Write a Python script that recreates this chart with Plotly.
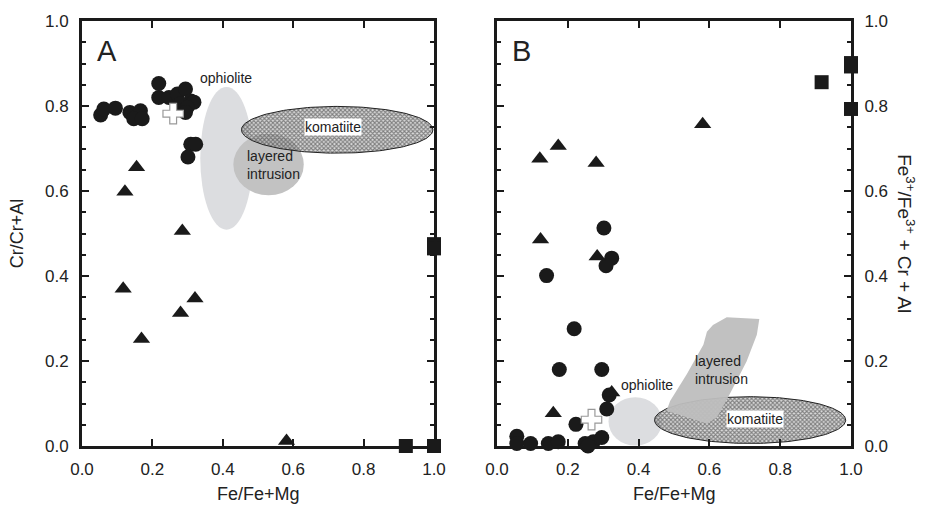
import numpy as np
import plotly.graph_objects as go

# ---------------- data ----------------
# Panel A: Cr/(Cr+Al) vs Fe/(Fe+Mg)
a_circle_x = [0.053, 0.062, 0.095, 0.136, 0.166, 0.147, 0.171, 0.218, 0.218, 0.247,
              0.271, 0.294, 0.309, 0.318, 0.280, 0.299, 0.294, 0.309, 0.323, 0.301]
a_circle_y = [0.779, 0.793, 0.795, 0.785, 0.789, 0.770, 0.770, 0.853, 0.820, 0.820,
              0.828, 0.840, 0.812, 0.809, 0.805, 0.797, 0.785, 0.710, 0.710, 0.680]
a_tri_x = [0.155, 0.122, 0.285, 0.117, 0.321, 0.280, 0.169, 0.581]
a_tri_y = [0.656, 0.598, 0.506, 0.370, 0.347, 0.313, 0.252, 0.012]
a_sq_x = [1.0, 1.0, 0.92, 1.0]
a_sq_y = [0.475, 0.465, 0.0, 0.0]
a_cross_x = [0.259]
a_cross_y = [0.782]

# Panel B: Fe3+/(Fe3+ + Cr + Al) vs Fe/(Fe+Mg)
b_circle_x = [0.302, 0.324, 0.308, 0.140, 0.218, 0.176, 0.296, 0.317, 0.310, 0.223,
              0.056, 0.056, 0.095, 0.145, 0.173, 0.249, 0.272, 0.296, 0.257]
b_circle_y = [0.513, 0.442, 0.424, 0.401, 0.276, 0.180, 0.180, 0.120, 0.087, 0.051,
              0.023, 0.006, 0.006, 0.006, 0.010, 0.006, 0.010, 0.020, 0.000]
b_tri_x = [0.121, 0.173, 0.280, 0.581, 0.123, 0.283, 0.324, 0.159]
b_tri_y = [0.676, 0.706, 0.666, 0.757, 0.486, 0.446, 0.126, 0.077]
b_sq_x = [1.0, 1.0, 0.917, 1.0]
b_sq_y = [0.901, 0.893, 0.856, 0.793]
b_cross_x = [0.267]
b_cross_y = [0.062]

# Field outlines
a_ophiolite = dict(x0=0.336, x1=0.485, y0=0.509, y1=0.845)
a_layered = dict(x0=0.43, x1=0.63, y0=0.59, y1=0.735)
a_komatiite = dict(cx=0.725, cy=0.744, rx=0.272, ry=0.055)
b_ophiolite = dict(x0=0.315, x1=0.466, y0=0.001, y1=0.115)
b_komatiite = dict(cx=0.715, cy=0.061, rx=0.27, ry=0.055)
b_layered_x = [0.649, 0.741, 0.734, 0.705, 0.658, 0.621, 0.592, 0.479, 0.489, 0.536, 0.583, 0.593, 0.610]
b_layered_y = [0.303, 0.299, 0.262, 0.199, 0.123, 0.067, 0.053, 0.083, 0.106, 0.169, 0.238, 0.269, 0.285]

tick_vals = [0.0, 0.2, 0.4, 0.6, 0.8, 1.0]
tick_text = ["0.0", "0.2", "0.4", "0.6", "0.8", "1.0"]

FONT = "Liberation Sans, Arial, sans-serif"

fig = go.Figure()


def ellipse(p):
    t = np.linspace(0, 2 * np.pi, 181)
    return p["cx"] + p["rx"] * np.cos(t), p["cy"] + p["ry"] * np.sin(t)


def add_komatiite(p, xa, ya):
    ex, ey = ellipse(p)
    fig.add_trace(go.Scatter(
        x=ex, y=ey, mode="lines", fill="toself", xaxis=xa, yaxis=ya,
        line=dict(color="#222", width=1),
        fillcolor="rgba(110,110,110,0.65)",
        fillpattern=dict(shape="x", size=3, solidity=0.6, fgcolor="#262626",
                         bgcolor="rgba(190,190,190,0.55)", fillmode="overlay"),
        hoverinfo="skip", showlegend=False))


def add_markers(cx, cy, tx, ty, sx, sy, rx, ry, xa, ya):
    fig.add_trace(go.Scatter(x=cx, y=cy, mode="markers", xaxis=xa, yaxis=ya,
                             marker=dict(symbol="circle", size=15, color="#1a1a1a"),
                             cliponaxis=False, showlegend=False))
    fig.add_trace(go.Scatter(x=tx, y=ty, mode="markers", xaxis=xa, yaxis=ya,
                             marker=dict(symbol="triangle-up", size=15, color="#1a1a1a"),
                             cliponaxis=False, showlegend=False))
    fig.add_trace(go.Scatter(x=sx, y=sy, mode="markers", xaxis=xa, yaxis=ya,
                             marker=dict(symbol="square", size=14, color="#1a1a1a"),
                             cliponaxis=False, showlegend=False))
    fig.add_trace(go.Scatter(x=rx, y=ry, mode="markers", xaxis=xa, yaxis=ya,
                             marker=dict(symbol="cross", size=17, color="white",
                                         line=dict(color="#999", width=1.2)),
                             cliponaxis=False, showlegend=False))


# Panel A fields
fig.add_shape(type="circle", xref="x", yref="y", layer="below", fillcolor="#dcdde0",
              line=dict(width=0), **a_ophiolite)
fig.add_shape(type="circle", xref="x", yref="y", layer="below", fillcolor="#c2c2c2",
              line=dict(width=0), **a_layered)
add_komatiite(a_komatiite, "x", "y")
add_markers(a_circle_x, a_circle_y, a_tri_x, a_tri_y, a_sq_x, a_sq_y, a_cross_x, a_cross_y, "x", "y")

# Panel B fields
fig.add_shape(type="circle", xref="x2", yref="y2", layer="below", fillcolor="#dcdde0",
              line=dict(width=0), **b_ophiolite)
add_komatiite(b_komatiite, "x2", "y2")
fig.add_trace(go.Scatter(x=b_layered_x + b_layered_x[:1], y=b_layered_y + b_layered_y[:1],
                         mode="lines", fill="toself", fillcolor="rgba(190,190,190,0.95)",
                         line=dict(width=0, color="rgba(0,0,0,0)"), xaxis="x2", yaxis="y2",
                         hoverinfo="skip", showlegend=False))
add_markers(b_circle_x, b_circle_y, b_tri_x, b_tri_y, b_sq_x, b_sq_y, b_cross_x, b_cross_y, "x2", "y2")

axis_common = dict(range=[0, 1], showgrid=False, zeroline=False, showline=True,
                   linecolor="#1a1a1a", linewidth=3, mirror="ticks",
                   ticks="inside", ticklen=7, tickwidth=2, tickcolor="#1a1a1a",
                   tickvals=tick_vals, ticktext=tick_text,
                   tickfont=dict(family=FONT, size=17, color="#222"))
y_minor = dict(ticks="inside", ticklen=4, tickwidth=2, tickcolor="#1a1a1a", dtick=0.05, showgrid=False)

dA = [0.0, 352 / 769]
dB = [415 / 769, 1.0]

fig.update_layout(
    width=925, height=513,
    margin=dict(l=82, r=74, t=14, b=67),
    paper_bgcolor="white", plot_bgcolor="white",
    font=dict(family=FONT, color="#222"),
    xaxis=dict(domain=dA, anchor="y", ticklabelstandoff=6, **axis_common),
    yaxis=dict(domain=[0, 1], anchor="x", minor=y_minor, ticklabelstandoff=7, **axis_common),
    xaxis2=dict(domain=dB, anchor="y2", ticklabelstandoff=6, **axis_common),
    yaxis2=dict(domain=[0, 1], anchor="x2", side="right", minor=y_minor, ticklabelstandoff=7,
                **axis_common),
    showlegend=False,
)

ann = []
lab = dict(family=FONT, color="#222")
c = dict(showarrow=False, xanchor="center", yanchor="middle")
# panel letters
ann.append(dict(x=0.07, y=0.93, xref="x", yref="y", text="A", font=dict(size=29, **lab), **c))
ann.append(dict(x=0.068, y=0.93, xref="x2", yref="y2", text="B", font=dict(size=29, **lab), **c))
# field labels A
ann.append(dict(x=0.408, y=0.866, xref="x", yref="y", text="ophiolite", font=dict(size=14, **lab), **c))
ann.append(dict(x=0.545, y=0.662, xref="x", yref="y", text="layered<br>intrusion",
                align="left", font=dict(size=14, **lab), **c))
ann.append(dict(x=0.713, y=0.75, xref="x", yref="y", text="komatiite",
                bgcolor="white", borderpad=0, font=dict(size=14, **lab), **c))
# field labels B
ann.append(dict(x=0.423, y=0.143, xref="x2", yref="y2", text="ophiolite", font=dict(size=14, **lab), **c))
ann.append(dict(x=0.635, y=0.18, xref="x2", yref="y2", text="layered<br>intrusion",
                align="left", font=dict(size=14, **lab), **c))
ann.append(dict(x=0.729, y=0.064, xref="x2", yref="y2", text="komatiite",
                bgcolor="white", borderpad=0, font=dict(size=14, **lab), **c))
# axis titles
ann.append(dict(x=0.229, y=-0.113, xref="paper", yref="paper", text="Fe/Fe+Mg",
                font=dict(size=18, **lab), **c))
ann.append(dict(x=0.770, y=-0.113, xref="paper", yref="paper", text="Fe/Fe+Mg",
                font=dict(size=18, **lab), **c))
ann.append(dict(x=-0.085, y=0.5, xref="paper", yref="paper", text="Cr/Cr+Al",
                textangle=-90, font=dict(size=18, **lab), **c))
ann.append(dict(x=1.072, y=0.5, xref="paper", yref="paper",
                text="Fe<sup>3+</sup>/Fe<sup>3+</sup> + Cr + Al",
                textangle=90, font=dict(size=19, **lab), **c))
fig.update_layout(annotations=ann)

fig.write_html("out.html")
